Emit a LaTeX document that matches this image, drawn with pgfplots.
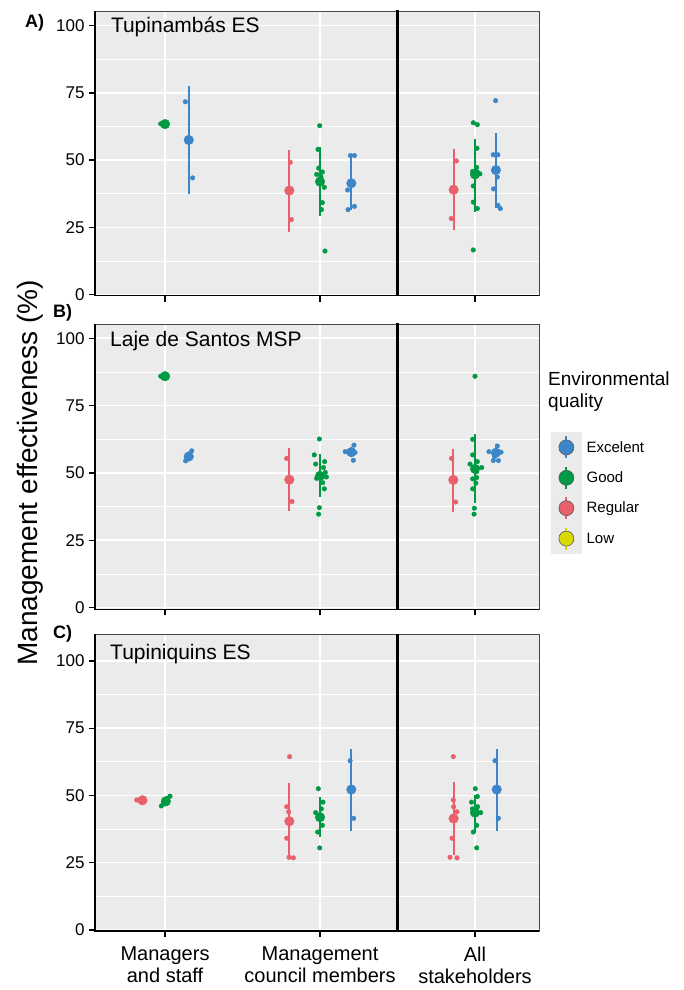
\documentclass[border=0pt]{standalone}
\usepackage{fontspec}
\setmainfont{Liberation Sans}
\usepackage{pgfplots}
\pgfplotsset{compat=1.18}
\definecolor{bg}{HTML}{EBEBEB}
\definecolor{cblu}{HTML}{3A86C8}
\definecolor{cgrn}{HTML}{009A44}
\definecolor{cred}{HTML}{E8606C}
\definecolor{cyel}{HTML}{D9D900}
\newcommand{\pts}[2]{\addplot[forget plot, only marks, mark=*, mark size=2.3pt, color=#1, mark options={draw=none}] coordinates {#2};}
\newcommand{\mn}[5]{\addplot[forget plot, only marks, mark=*, mark size=4.8pt, color=#1, mark options={draw=none}, error bars/.cd, y dir=both, y explicit, error mark=none, error bar style={line width=1.8pt, color=#1}] coordinates {(#2,#3) += (0,#4) -= (0,#5)};}
\newcommand{\sep}{\addplot[forget plot, black, line width=2.3pt] coordinates {(2.5,-5) (2.5,120)};}
\pgfplotsset{panel/.style={
  scale only axis, width=444pt, anchor=south west,
  xmin=0.548, xmax=3.413,
  axis background/.style={fill=bg},
  xtick={1,2,3}, ytick={0,25,50,75,100}, minor ytick={12.5,37.5,62.5,87.5},
  grid=both, major grid style={white, line width=1.6pt}, minor grid style={white, line width=0.8pt},
  tick align=outside, tick pos=left, major tick length=6pt, minor tick length=0pt,
  tick style={black, line width=1.3pt},
  axis line style={draw=gray!55!black, line width=0.9pt},
  yticklabel style={font=\fontsize{17}{17}\selectfont, xshift=-1pt},
  xticklabel style={font=\fontsize{20}{22}\selectfont, align=center, yshift=-6pt},
  /pgf/number format/assume math mode=true,
  clip=true,
  after end axis/.code={\draw[black, line width=1.6pt] (rel axis cs:0,1) -- (rel axis cs:0,0) -- (rel axis cs:1,0);},
}}
\pgfplotsset{keyimg/.style={legend image code/.code={
  \fill[bg] (0pt,-15pt) rectangle (30pt,15pt);
  \draw[line width=1.8pt] (15pt,-11pt) -- (15pt,11pt);
  \filldraw[draw=gray!70!black, line width=0.6pt] (15pt,0pt) circle (7.5pt);}}}
\begin{document}
\begin{tikzpicture}
\useasboundingbox (0,0) rectangle (683pt,990pt);
% ---------------- Panel A
\begin{axis}[panel, at={(95pt,694.3pt)}, height=284.7pt, ymin=-0.4, ymax=105.45, xticklabels={,,}]
\sep
\pts{cgrn}{(0.972,63.5)(0.985,63.5)}
\mn{cgrn}{1.0}{63.4}{0}{0}
\pts{cblu}{(1.131,71.7)(1.178,43.4)}
\mn{cblu}{1.153}{57.5}{20.1}{20.0}
\pts{cred}{(1.808,49.2)(1.815,27.9)}
\mn{cred}{1.802}{38.7}{15.1}{15.3}
\pts{cgrn}{(1.998,62.8)(1.987,54.0)(1.991,47.0)(2.015,45.6)(1.978,44.7)(2.006,43.9)(2.028,39.9)(2.015,34.2)(2.009,31.6)(2.032,16.2)(1.995,42.5)(2.004,41.8)}
\mn{cgrn}{2.0}{42.0}{12.8}{12.6}
\pts{cblu}{(2.196,51.7)(2.222,51.7)(2.178,38.9)(2.181,31.6)(2.222,32.8)}
\mn{cblu}{2.202}{41.4}{10.5}{9.8}
\pts{cred}{(2.880,49.7)(2.847,28.3)}
\mn{cred}{2.862}{39.0}{15.0}{15.1}
\pts{cgrn}{(2.989,63.9)(3.015,63.2)(3.013,54.4)(3.011,47.3)(2.985,45.8)(3.015,45.6)(3.032,44.9)(2.989,40.4)(2.989,34.4)(3.015,32.0)(2.989,16.6)(3.005,44.5)}
\mn{cgrn}{3.0}{44.7}{13.0}{14.1}
\pts{cblu}{(3.133,72.1)(3.118,52.0)(3.148,52.0)(3.144,43.7)(3.120,39.3)(3.148,33.2)(3.163,32.0)}
\mn{cblu}{3.135}{46.3}{13.7}{14.0}
\node[anchor=base west, inner sep=0pt, font=\fontsize{21}{21}\selectfont] at (axis cs:0.65,97.3) {Tupinambás ES};
\end{axis}
% ---------------- Panel B
\begin{axis}[panel, at={(95pt,380.5pt)}, height=285.5pt, ymin=-0.7, ymax=105.3, xticklabels={,,},
  legend style={draw=none, fill=none, at={(rel axis cs:1.027,0.6217)}, anchor=north west, inner sep=0pt, row sep=0pt,
    font=\fontsize{15}{15}\selectfont, nodes={inner xsep=5pt, inner ysep=0pt}},
  legend cell align=left]
\addlegendimage{keyimg, color=cblu}
\addlegendentry{Excelent}
\addlegendimage{keyimg, color=cgrn}
\addlegendentry{Good}
\addlegendimage{keyimg, color=cred}
\addlegendentry{Regular}
\addlegendimage{keyimg, color=cyel}
\addlegendentry{Low}
\sep
\pts{cgrn}{(0.972,85.9)(0.985,85.9)}
\mn{cgrn}{1.0}{85.9}{0}{0}
\pts{cblu}{(1.172,58.2)(1.157,56.9)(1.140,55.2)(1.133,54.5)(1.146,55.7)}
\mn{cblu}{1.153}{56.1}{1.5}{1.5}
\pts{cred}{(1.785,55.4)(1.819,39.4)}
\mn{cred}{1.802}{47.5}{11.7}{11.5}
\pts{cgrn}{(1.996,62.6)(1.963,56.7)(1.972,53.3)(2.030,54.2)(2.022,52.0)(2.034,50.2)(2.004,49.5)(1.978,48.0)(2.041,48.5)(2.017,46.4)(2.028,44.1)(1.996,37.1)(1.991,34.7)}
\mn{cgrn}{2.0}{48.9}{8.0}{7.7}
\pts{cblu}{(2.219,60.3)(2.163,57.9)(2.185,57.7)(2.215,54.7)(2.226,57.6)}
\mn{cblu}{2.202}{57.7}{1.8}{1.8}
\pts{cred}{(2.849,55.4)(2.875,39.2)}
\mn{cred}{2.860}{47.4}{11.4}{11.8}
\pts{cgrn}{(3.0,85.9)(2.985,62.5)(2.985,56.7)(2.968,53.3)(3.015,54.2)(3.043,52.0)(2.989,51.5)(3.011,50.5)(3.011,48.3)(2.985,47.8)(3.006,46.2)(2.985,44.1)(2.996,36.9)(2.994,34.7)}
\mn{cgrn}{3.0}{51.5}{13.0}{12.5}
\pts{cblu}{(3.144,60.0)(3.090,57.9)(3.168,57.7)(3.127,56.1)(3.118,54.6)(3.151,54.6)}
\mn{cblu}{3.135}{57.5}{2.0}{2.0}
\node[anchor=base west, inner sep=0pt, font=\fontsize{21}{21}\selectfont] at (axis cs:0.645,96.8) {Laje de Santos MSP};
\end{axis}
% ---------------- Panel C
\begin{axis}[panel, at={(95pt,59pt)}, height=296.7pt, ymin=-0.4, ymax=109.9,
  xticklabels={{Managers\\and staff},{Management\\council members},{All\\stakeholders}}]
\sep
\pts{cred}{(0.817,48.3)(0.839,48.3)}
\mn{cred}{0.854}{48.2}{0}{0}
\pts{cgrn}{(1.032,49.7)(1.015,48.9)(0.998,47.7)(0.976,46.1)(0.989,46.8)}
\mn{cgrn}{1.005}{47.8}{1.3}{1.3}
\pts{cred}{(1.804,64.4)(1.785,45.8)(1.798,43.9)(1.785,34.1)(1.800,27.0)(1.828,26.8)}
\mn{cred}{1.802}{40.4}{14.2}{13.9}
\pts{cgrn}{(1.989,52.5)(2.019,47.5)(2.009,45.0)(1.972,43.6)(2.015,38.9)(1.985,36.4)(1.998,30.5)(2.004,41.5)}
\mn{cgrn}{2.0}{41.9}{7.4}{7.2}
\pts{cblu}{(2.194,62.9)(2.217,41.5)}
\mn{cblu}{2.202}{52.2}{15.1}{15.3}
\pts{cred}{(2.860,64.4)(2.860,48.3)(2.862,45.8)(2.884,43.9)(2.852,34.1)(2.839,27.0)(2.884,26.8)}
\mn{cred}{2.862}{41.4}{13.6}{13.6}
\pts{cgrn}{(3.002,52.5)(3.015,49.6)(2.978,47.5)(3.017,45.8)(2.983,45.0)(3.037,43.6)(3.011,38.9)(2.989,36.4)(3.011,30.5)(3.006,44.0)}
\mn{cgrn}{3.0}{43.6}{6.5}{7.7}
\pts{cblu}{(3.129,62.9)(3.151,41.5)}
\mn{cblu}{3.140}{52.2}{15.1}{15.3}
\node[anchor=base west, inner sep=0pt, font=\fontsize{21}{21}\selectfont] at (axis cs:0.645,100.4) {Tupiniquins ES};
\end{axis}
% ---------------- labels
\node[anchor=base, rotate=90, inner sep=0pt, font=\fontsize{28}{28}\selectfont] at (37pt,517pt) {Management effectiveness (\%)};
\node[anchor=base west, inner sep=0pt, font=\fontsize{18}{18}\selectfont\bfseries] at (25pt,962pt) {A)};
\node[anchor=base west, inner sep=0pt, font=\fontsize{18}{18}\selectfont\bfseries] at (53pt,672pt) {B)};
\node[anchor=base west, inner sep=0pt, font=\fontsize{18}{18}\selectfont\bfseries] at (53pt,351pt) {C)};
\node[anchor=north west, inner sep=0pt, align=left, font=\fontsize{19}{22}\selectfont] at (548pt,618pt) {Environmental\\quality};
\end{tikzpicture}
\end{document}
